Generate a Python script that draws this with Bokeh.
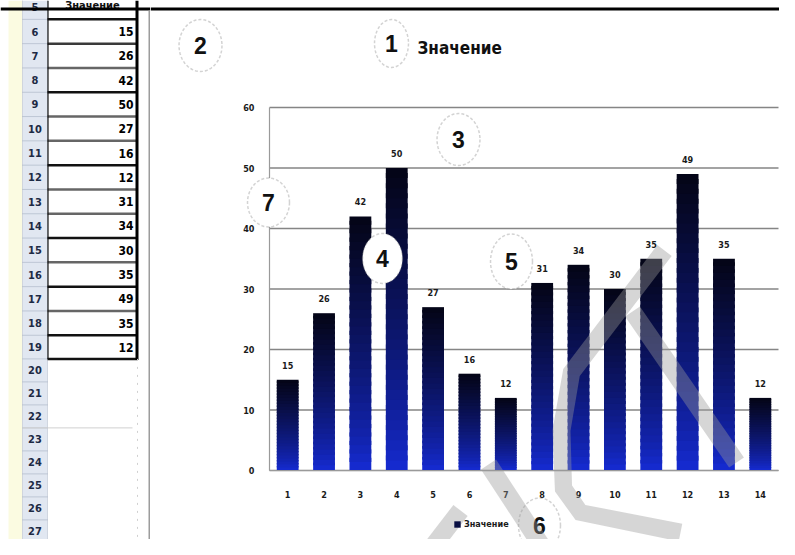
import numpy as np
from bokeh.plotting import figure
from bokeh.models import (Range1d, FixedTicker, Label, PolyAnnotation, Legend,
                          LegendItem, ColumnDataSource)
from bokeh.layouts import row
from bokeh.embed import file_html
from bokeh.resources import INLINE
from bokeh.core.properties import value

# ---------------- data ----------------
categories = list(range(1, 15))
values = [15, 26, 42, 50, 27, 16, 12, 31, 34, 30, 35, 49, 35, 12]
y_ticks = [0, 10, 20, 30, 40, 50, 60]
series_name = "Значение"
sheet_rows = list(range(5, 28))
data_rows = list(range(6, 20))
callout_numbers = ["1", "2", "3", "4", "5", "6", "7"]

# ---------------- layout constants (picture pixels) ----------------
W, H = 779, 539
SHEET_W = 150
CHART_W = W - SHEET_W
PL, PR = 269, 778          # plot area left / right
Y0, Y60 = 470, 107         # pixel rows of value 0 and value 60
NARROW = "'Liberation Sans Narrow', 'DejaVu Sans Condensed', 'Arial Narrow', 'Liberation Sans', sans-serif"
BOLD_FONT = "'Liberation Sans', Arial, sans-serif"


def sx(x):
    return x - SHEET_W


def sy(y):
    return H - y


# ================= spreadsheet strip (left) =================
s = figure(width=SHEET_W, height=H, x_range=Range1d(0, SHEET_W), y_range=Range1d(H, 0),
           output_backend="svg", toolbar_location=None, min_border=0)
s.axis.visible = False
s.grid.visible = False
s.outline_line_color = None
s.background_fill_color = "white"
s.border_fill_color = "white"


def row_center(n):
    return 31 + (n - 6) * 24.3 if n <= 19 else 31 + 13 * 24.3 + (n - 19) * 23.0


row_c = {n: row_center(n) for n in sheet_rows}

# yellow strip and row-header column
s.quad(left=8, right=22, top=0, bottom=H, fill_color="#fbfbe1", line_color=None)
s.quad(left=22, right=47, top=0, bottom=H, fill_color="#e1e7f1", line_color=None)
hdr_y = [(row_c[n] + row_c[n + 1]) / 2 for n in sheet_rows[:-1]]
s.segment(x0=[22] * len(hdr_y), x1=[47] * len(hdr_y), y0=hdr_y, y1=hdr_y,
          line_color="#9aa6b8", line_width=1, line_dash="1 1")
s.segment(x0=[22, 47], x1=[22, 47], y0=[0, 0], y1=[H, H], line_color="#b0b8c8",
          line_width=1, line_dash="1 1")
s.text(x=[34.5] * len(sheet_rows), y=[row_c[n] for n in sheet_rows],
       text=[str(n) for n in sheet_rows], text_align="center", text_baseline="middle",
       text_font=value(NARROW), text_font_style="bold", text_font_size="11px",
       text_color="#1d2a44")

# table header (row 5), partly hidden under the top rule
s.text(x=[92], y=[row_c[5] - 2], text=[series_name], text_align="center", text_baseline="middle",
       text_font=value(NARROW), text_font_style="bold", text_font_size="11px",
       text_color="#111111")

# table borders
bound_y = [(row_c[n] + row_c[n + 1]) / 2 for n in [5] + data_rows]
bound_col = ["#111111", "#3a3a3a", "#666666", "#111111", "#666666", "#666666", "#111111",
             "#666666", "#666666", "#111111", "#666666", "#111111", "#666666", "#111111",
             "#111111"]
s.segment(x0=[47] * len(bound_y), x1=[137] * len(bound_y), y0=bound_y, y1=bound_y,
          line_color=bound_col, line_width=2.5)
s.segment(x0=[47.5], x1=[47.5], y0=[0], y1=[bound_y[-1]], line_color="#111111", line_width=1.2)
s.segment(x0=[136.5], x1=[136.5], y0=[0], y1=[bound_y[-1] + 1], line_color="#000000", line_width=3)
s.segment(x0=[137], x1=[137], y0=[bound_y[-1]], y1=[H], line_color="#d0d0d0", line_width=1,
          line_dash="2 6")
s.segment(x0=[22], x1=[132], y0=[(row_c[22] + row_c[23]) / 2], y1=[(row_c[22] + row_c[23]) / 2],
          line_color="#d0d0d0", line_width=1)
s.text(x=[133] * len(values), y=[row_c[n] for n in data_rows], text=[str(v) for v in values],
       text_align="right", text_baseline="middle", text_font=value(NARROW),
       text_font_style="bold", text_font_size="12px", text_color="#000000")
# thick black top rule and chart-area border
s.quad(left=0, right=SHEET_W, top=7, bottom=10, fill_color="#000000", line_color=None)
s.segment(x0=[149], x1=[149], y0=[10], y1=[H], line_color="#9c9c9c", line_width=2)

# ================= chart (right) =================
cw = (PR - PL) / 14
ppu = (Y0 - Y60) / 60
p = figure(width=CHART_W, height=H,
           x_range=Range1d(0.5 - (PL - SHEET_W) / cw, 14.5 + (W - PR) / cw),
           y_range=Range1d(-(H - Y0) / ppu, 60 + Y60 / ppu),
           output_backend="svg", toolbar_location=None, min_border=0)
p.outline_line_color = None
p.grid.visible = False
p.background_fill_color = "white"
p.border_fill_color = "white"

p.yaxis.ticker = FixedTicker(ticks=y_ticks)
p.xaxis.ticker = FixedTicker(ticks=categories)
p.yaxis.fixed_location = 0.5
p.xaxis.fixed_location = 0
p.yaxis.bounds = (0, 60)
p.xaxis.bounds = (0.5, 14.5)
for ax in (p.xaxis, p.yaxis):
    ax.axis_line_color = "#9a9a9a"
    ax.axis_line_width = 1.2
    ax.major_tick_line_color = None
    ax.minor_tick_line_color = None
    ax.major_label_text_font = NARROW
    ax.major_label_text_font_style = "bold"
    ax.major_label_text_font_size = "9px"
    ax.major_label_text_color = "#1a1a1a"
p.xaxis.major_label_standoff = 14
p.yaxis.major_label_standoff = 9

# horizontal gridlines across the plot area only
p.segment(x0=[0.5] * len(y_ticks), x1=[14.5] * len(y_ticks), y0=y_ticks, y1=y_ticks,
          line_color="#858585", line_width=1.3)

# bars with vertical gradient (blue at the bottom -> black at the top)
N = 30
bottom_rgb = np.array([22, 44, 215])
top_rgb = np.array([4, 4, 22])
xs, bots, tops, cols = [], [], [], []
for c, v in zip(categories, values):
    for k in range(N):
        t = (k + 0.5) / N
        m = t ** 0.75
        rgb = bottom_rgb * (1 - m) + top_rgb * m
        xs.append(c)
        bots.append(v * k / N)
        tops.append(min(v, v * (k + 1.5) / N))
        cols.append("#%02x%02x%02x" % tuple(int(round(u)) for u in rgb))
src = ColumnDataSource(dict(x=xs, bottom=bots, top=tops, color=cols))
bars = p.vbar(x="x", bottom="bottom", top="top", width=0.6, source=src,
              fill_color="color", line_color=None)

# data labels
p.text(x=categories, y=values, text=[str(v) for v in values], text_align="center",
       text_baseline="bottom", y_offset=-11, text_font=value(NARROW),
       text_font_style="bold", text_font_size="9px", text_color="#1a1a1a")

# legend (at the bottom)
legend = Legend(items=[LegendItem(label=series_name, renderers=[bars], index=int(N * 0.7))],
                location=(sx(453), sy(530)), orientation="horizontal",
                glyph_width=8, glyph_height=8, label_standoff=3, padding=0, margin=0,
                spacing=0, border_line_color=None, background_fill_alpha=0,
                label_text_font=NARROW, label_text_font_style="bold",
                label_text_font_size="9px", label_text_color="#1a1a1a", label_height=12)
p.add_layout(legend)

# chart title
p.add_layout(Label(x=sx(417), y=sy(47), x_units="screen", y_units="screen", text=series_name,
                   text_font=NARROW, text_font_style="bold", text_font_size="17px",
                   text_color="#111111", text_baseline="middle"))

# thick black top rule continues across the chart area
p.add_layout(PolyAnnotation(xs=[sx(SHEET_W), sx(W), sx(W), sx(SHEET_W)],
                            ys=[sy(7), sy(7), sy(10), sy(10)],
                            xs_units="screen", ys_units="screen",
                            fill_color="#000000", fill_alpha=1, line_color=None))

# numbered call-out ellipses (centre x, centre y, width, height in picture pixels)
callouts = [(391, 43, 34, 48), (200, 45, 43, 52), (458, 139, 43, 52), (382, 258, 40, 50),
            (511, 261, 42, 55), (539, 525, 42, 55), (268, 202, 42, 49)]
th = np.linspace(0, 2 * np.pi, 60, endpoint=False)
for num, (cx, cy, w, h) in zip(callout_numbers, callouts):
    ex = [sx(cx + w / 2 * np.cos(a)) for a in th]
    ey = [sy(cy + h / 2 * np.sin(a)) for a in th]
    p.add_layout(PolyAnnotation(xs=ex, ys=ey, xs_units="screen", ys_units="screen",
                                fill_color="white", fill_alpha=1, line_color="#6e6e6e",
                                line_width=1.5, line_dash="3 2"))
    p.add_layout(Label(x=sx(cx), y=sy(cy), x_units="screen", y_units="screen", text=num,
                       text_align="center", text_baseline="middle", text_font=BOLD_FONT,
                       text_font_style="bold", text_font_size="23px", text_color="#111111"))


# light-grey watermark strokes
def band(points, wdt):
    pts = np.array(points, float)
    n = len(pts)
    left, right = [], []
    for i in range(n):
        if i == 0:
            d = pts[1] - pts[0]
        elif i == n - 1:
            d = pts[-1] - pts[-2]
        else:
            d1 = pts[i] - pts[i - 1]
            d2 = pts[i + 1] - pts[i]
            d = d1 / np.linalg.norm(d1) + d2 / np.linalg.norm(d2)
        d = d / np.linalg.norm(d)
        nv = np.array([-d[1], d[0]])
        left.append(pts[i] + nv * wdt / 2)
        right.append(pts[i] - nv * wdt / 2)
    poly = left + right[::-1]
    return [sx(q[0]) for q in poly], [sy(q[1]) for q in poly]


strokes = [
    [(420, 562), (460, 510)],
    [(488, 464), (552, 562)],
    [(664, 250), (571, 372), (561, 430), (563, 488), (580, 512), (680, 532)],
    [(632, 311), (736, 462)],
]
for st in strokes:
    wx, wy = band(st, 18)
    p.add_layout(PolyAnnotation(xs=wx, ys=wy, xs_units="screen", ys_units="screen",
                                fill_color="#999999", fill_alpha=0.4, line_color=None))

layout = row(s, p)
open("out.html", "w").write(file_html(layout, INLINE))
